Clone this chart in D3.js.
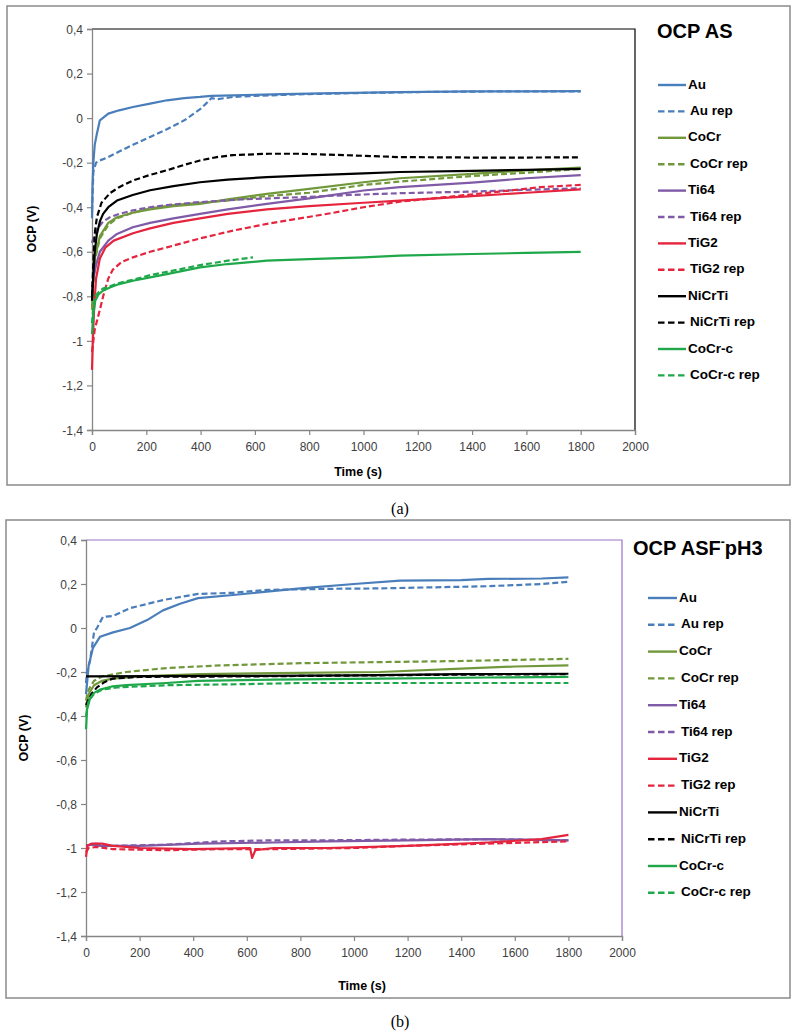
<!DOCTYPE html>
<html>
<head>
<meta charset="utf-8">
<script src="https://cdn.jsdelivr.net/npm/d3@7"></script>
<style>
html,body{margin:0;padding:0;background:#fff;}
svg{display:block;}
</style>
</head>
<body>
<svg id="c" width="795" height="1034"></svg>
<script>
// ---------- DATA ----------
const seriesNames = ["Au","Au rep","CoCr","CoCr rep","Ti64","Ti64 rep","TiG2","TiG2 rep","NiCrTi","NiCrTi rep","CoCr-c","CoCr-c rep"];
const xTicks = [0,200,400,600,800,1000,1200,1400,1600,1800,2000];
const yTicks = [0.4,0.2,0,-0.2,-0.4,-0.6,-0.8,-1,-1.2,-1.4];

// Panel (a): OCP AS  — [time s, OCP V]
const AS_Au = [[0,-0.45],[2,-0.3],[5,-0.2],[10,-0.12],[18,-0.07],[29,-0.01],[60,0.02],[100,0.035],[151,0.05],[214,0.065],[276,0.08],[340,0.09],[398,0.095],[440,0.1],[519,0.102],[700,0.108],[900,0.112],[1134,0.117],[1400,0.12],[1600,0.12],[1800,0.121]];
const AS_AuRep = [[0,-0.42],[5,-0.24],[15,-0.2],[29,-0.19],[60,-0.175],[100,-0.15],[151,-0.12],[214,-0.085],[276,-0.05],[340,-0.01],[398,0.04],[420,0.065],[440,0.09],[460,0.085],[520,0.095],[600,0.1],[800,0.108],[1000,0.113],[1200,0.117],[1500,0.12],[1800,0.12]];
const AS_CoCr = [[0,-0.85],[5,-0.72],[12,-0.62],[29,-0.53],[60,-0.47],[92,-0.445],[150,-0.425],[214,-0.41],[300,-0.395],[398,-0.385],[500,-0.365],[644,-0.34],[800,-0.318],[1000,-0.288],[1134,-0.27],[1400,-0.25],[1600,-0.235],[1800,-0.222]];
const AS_CoCrRep = [[0,-0.86],[5,-0.74],[12,-0.63],[29,-0.54],[60,-0.48],[92,-0.45],[150,-0.425],[214,-0.405],[300,-0.39],[398,-0.38],[500,-0.37],[644,-0.35],[800,-0.335],[1000,-0.3],[1134,-0.285],[1400,-0.26],[1600,-0.245],[1800,-0.228]];
const AS_Ti64 = [[0,-0.78],[5,-0.72],[15,-0.66],[29,-0.6],[60,-0.55],[92,-0.52],[150,-0.49],[214,-0.47],[300,-0.45],[398,-0.43],[500,-0.41],[644,-0.385],[800,-0.36],[1000,-0.325],[1134,-0.31],[1400,-0.29],[1600,-0.27],[1800,-0.256]];
const AS_Ti64Rep = [[0,-0.56],[5,-0.54],[18,-0.5],[40,-0.465],[66,-0.445],[100,-0.43],[151,-0.414],[214,-0.4],[276,-0.39],[398,-0.377],[550,-0.365],[766,-0.355],[950,-0.345],[1134,-0.337],[1400,-0.33],[1600,-0.322],[1800,-0.315]];
const AS_TiG2 = [[0,-1.13],[3,-1.0],[8,-0.85],[15,-0.72],[29,-0.63],[50,-0.58],[80,-0.55],[151,-0.517],[214,-0.495],[300,-0.47],[398,-0.45],[500,-0.43],[644,-0.41],[800,-0.395],[1000,-0.38],[1134,-0.37],[1400,-0.35],[1600,-0.335],[1800,-0.32]];
const AS_TiG2Rep = [[0,-1.05],[10,-0.95],[29,-0.86],[41,-0.8],[60,-0.72],[77,-0.68],[110,-0.645],[151,-0.625],[214,-0.6],[276,-0.58],[398,-0.54],[519,-0.505],[644,-0.475],[766,-0.45],[889,-0.425],[1000,-0.4],[1134,-0.375],[1300,-0.355],[1500,-0.33],[1650,-0.31],[1800,-0.3]];
const AS_NiCrTi = [[0,-0.82],[5,-0.7],[10,-0.6],[18,-0.52],[30,-0.46],[41,-0.43],[60,-0.4],[92,-0.37],[150,-0.345],[214,-0.324],[300,-0.305],[398,-0.288],[500,-0.276],[644,-0.265],[800,-0.257],[1000,-0.248],[1134,-0.242],[1400,-0.237],[1600,-0.232],[1800,-0.228]];
const AS_NiCrTiRep = [[0,-0.8],[5,-0.65],[10,-0.52],[18,-0.445],[35,-0.38],[66,-0.337],[100,-0.31],[151,-0.28],[214,-0.255],[276,-0.234],[340,-0.21],[398,-0.19],[460,-0.175],[519,-0.166],[650,-0.16],[766,-0.16],[900,-0.165],[1134,-0.175],[1400,-0.177],[1600,-0.177],[1800,-0.176]];
const AS_CoCrc = [[0,-0.97],[5,-0.88],[12,-0.82],[25,-0.79],[40,-0.775],[66,-0.76],[100,-0.745],[151,-0.73],[214,-0.715],[276,-0.7],[398,-0.67],[500,-0.655],[644,-0.64],[800,-0.633],[1000,-0.625],[1134,-0.617],[1400,-0.61],[1600,-0.605],[1800,-0.6]];
const AS_CoCrcRep = [[0,-0.92],[5,-0.85],[12,-0.8],[25,-0.78],[40,-0.765],[66,-0.755],[100,-0.74],[151,-0.725],[214,-0.705],[276,-0.69],[398,-0.66],[500,-0.64],[593,-0.625]];

// Panel (b): OCP ASF-pH3
const PH_Au = [[0,-0.3],[4,-0.25],[10,-0.17],[26,-0.09],[52,-0.04],[101,-0.02],[164,0.0],[228,0.036],[287,0.08],[351,0.11],[418,0.136],[549,0.15],[675,0.165],[799,0.18],[1000,0.2],[1172,0.215],[1400,0.218],[1500,0.223],[1700,0.225],[1800,0.23]];
const PH_AuRep = [[0,-0.25],[4,-0.2],[15,-0.15],[30,-0.02],[41,0.0],[63,0.05],[101,0.055],[164,0.09],[287,0.127],[418,0.155],[549,0.16],[675,0.173],[900,0.178],[1097,0.18],[1300,0.185],[1500,0.19],[1700,0.2],[1800,0.21]];
const PH_CoCr = [[0,-0.36],[10,-0.3],[30,-0.26],[60,-0.24],[100,-0.23],[200,-0.22],[425,-0.21],[700,-0.205],[1097,-0.2],[1400,-0.185],[1600,-0.175],[1800,-0.17]];
const PH_CoCrRep = [[0,-0.33],[10,-0.28],[30,-0.24],[60,-0.22],[150,-0.2],[302,-0.182],[500,-0.17],[799,-0.16],[1097,-0.155],[1400,-0.15],[1800,-0.14]];
const PH_Ti64 = [[0,-0.99],[20,-0.985],[52,-0.99],[200,-0.99],[425,-0.98],[700,-0.975],[900,-0.97],[1200,-0.965],[1500,-0.96],[1800,-0.965]];
const PH_Ti64Rep = [[0,-0.99],[30,-0.98],[100,-0.99],[300,-0.985],[500,-0.97],[700,-0.965],[900,-0.965],[1200,-0.962],[1500,-0.96],[1800,-0.965]];
const PH_TiG2 = [[0,-1.04],[5,-0.99],[20,-0.98],[60,-0.98],[100,-0.99],[200,-1.0],[400,-1.005],[612,-1.0],[620,-1.045],[632,-1.01],[700,-1.0],[900,-1.0],[1200,-0.99],[1500,-0.975],[1700,-0.96],[1800,-0.94]];
const PH_TiG2Rep = [[0,-1.02],[10,-1.0],[40,-0.995],[100,-1.005],[300,-1.01],[500,-1.005],[700,-1.005],[1000,-1.0],[1200,-0.99],[1500,-0.98],[1800,-0.97]];
const PH_NiCrTi = [[0,-0.22],[500,-0.218],[1000,-0.215],[1400,-0.21],[1800,-0.208]];
const PH_NiCrTiRep = [[0,-0.35],[4,-0.34],[20,-0.3],[41,-0.27],[70,-0.245],[101,-0.23],[200,-0.222],[600,-0.22],[1000,-0.216],[1400,-0.212],[1800,-0.21]];
const PH_CoCrc = [[0,-0.46],[4,-0.37],[15,-0.32],[30,-0.295],[52,-0.28],[100,-0.265],[150,-0.26],[300,-0.25],[418,-0.24],[700,-0.235],[1100,-0.23],[1500,-0.225],[1800,-0.222]];
const PH_CoCrcRep = [[0,-0.4],[10,-0.33],[30,-0.3],[60,-0.28],[116,-0.27],[300,-0.26],[600,-0.255],[800,-0.25],[1200,-0.25],[1800,-0.25]];

const asSeries = [AS_Au,AS_AuRep,AS_CoCr,AS_CoCrRep,AS_Ti64,AS_Ti64Rep,AS_TiG2,AS_TiG2Rep,AS_NiCrTi,AS_NiCrTiRep,AS_CoCrc,AS_CoCrcRep];
const phSeries = [PH_Au,PH_AuRep,PH_CoCr,PH_CoCrRep,PH_Ti64,PH_Ti64Rep,PH_TiG2,PH_TiG2Rep,PH_NiCrTi,PH_NiCrTiRep,PH_CoCrc,PH_CoCrcRep];

// ---------- STYLE ----------
const seriesColors = ["#4a7ebb","#4a7ebb","#71993c","#71993c","#7f5aa6","#7f5aa6","#e5243d","#e5243d","#000000","#000000","#1ea84a","#1ea84a"];
const dashed = i => i % 2 === 1;

const svg = d3.select("#c");
svg.append("rect").attr("width",795).attr("height",1034).attr("fill","#fff");

const FONT = "'Liberation Sans', Arial, sans-serif";

function panel(cfg) {
  const g = svg.append("g");
  g.append("rect").attr("x",cfg.frame[0]).attr("y",cfg.frame[1])
    .attr("width",cfg.frame[2]).attr("height",cfg.frame[3])
    .attr("fill","none").attr("stroke","#8a8a8a").attr("stroke-width",1.5);

  const [px,py,pw,ph] = cfg.plot;
  const x = d3.scaleLinear().domain([0,2000]).range([px,px+pw]);
  const y = d3.scaleLinear().domain([-1.4,0.4]).range([py+ph,py]);

  g.append("path").attr("d",`M${px},${py}H${px+pw}V${py+ph}`)
    .attr("fill","none").attr("stroke",cfg.borderColor).attr("stroke-width",1.2);

  const xAxis = d3.axisBottom(x).tickValues(xTicks).tickSize(5).tickFormat(d3.format("d"));
  const yAxis = d3.axisLeft(y).tickValues(yTicks).tickSize(5)
    .tickFormat(d => String(+d.toFixed(1)).replace(".",","));
  const gx = g.append("g").attr("transform",`translate(0,${py+ph})`).call(xAxis);
  const gy = g.append("g").attr("transform",`translate(${px},0)`).call(yAxis);
  [gx,gy].forEach(a => {
    a.select(".domain").attr("stroke","#868686").attr("stroke-width",1.3);
    a.selectAll(".tick line").attr("stroke","#868686").attr("stroke-width",1.2);
    a.selectAll(".tick text").attr("fill","#404040").style("font-family",FONT).style("font-size","12px");
  });
  gx.selectAll(".tick text").attr("dy",0).attr("y",cfg.xLabelY - (py+ph)).attr("dominant-baseline","middle");
  gy.selectAll(".tick text").attr("x",-9).attr("dy","0.35em");

  g.append("text").attr("x",cfg.timeX).attr("y",cfg.timeY).attr("text-anchor","middle")
    .attr("dominant-baseline","middle").style("font-family",FONT).style("font-weight","bold")
    .style("font-size","12.5px").text("Time (s)");
  g.append("text").attr("transform",`translate(${cfg.ocpX},${cfg.ocpY}) rotate(-90)`)
    .attr("text-anchor","middle").attr("dominant-baseline","middle")
    .style("font-family",FONT).style("font-weight","bold").style("font-size","12.5px").text("OCP (V)");

  const line = d3.line().x(d => x(d[0])).y(d => y(d[1])).curve(d3.curveLinear);
  cfg.series.forEach((s,i) => {
    g.append("path").datum(s).attr("d",line).attr("fill","none")
      .attr("stroke",seriesColors[i]).attr("stroke-width",2.2)
      .attr("stroke-linejoin","round")
      .attr("stroke-dasharray",dashed(i) ? "6,3" : null);
  });

  const t = g.append("text").attr("x",cfg.titleX).attr("y",cfg.titleY).attr("dominant-baseline","middle")
    .style("font-family",FONT).style("font-weight","bold").style("font-size","20px");
  cfg.title(t);

  seriesNames.forEach((n,i) => {
    const yy = cfg.legY + i*cfg.legStep;
    g.append("line").attr("x1",cfg.legX1).attr("x2",cfg.legX2).attr("y1",yy).attr("y2",yy)
      .attr("stroke",seriesColors[i]).attr("stroke-width",2.4)
      .attr("stroke-dasharray",dashed(i) ? "6.5,3.5" : null);
    g.append("text").attr("x",cfg.legX2 + (dashed(i)?4:2)).attr("y",yy).attr("dominant-baseline","middle")
      .style("font-family",FONT).style("font-weight","bold").style("font-size","13.5px").text(n);
  });
}

panel({
  frame:[7,6,783,479], plot:[92,29,543,401], borderColor:"#000",
  xLabelY:448, timeX:358, timeY:473, ocpX:33, ocpY:229,
  series: asSeries,
  titleX:657, titleY:33, title: t => t.text("OCP AS"),
  legX1:658, legX2:686, legY:85, legStep:26.4
});

panel({
  frame:[6,520,784,478], plot:[86,540,536,396], borderColor:"#9b72c8",
  xLabelY:954, timeX:362, timeY:987, ocpX:25, ocpY:738,
  series: phSeries,
  titleX:633, titleY:550, title: t => {
    t.append("tspan").text("OCP ASF");
    t.append("tspan").attr("dy",-7).style("font-size","12px").text("-");
    t.append("tspan").attr("dy",7).text("pH3");
  },
  legX1:648, legX2:677, legY:598, legStep:26.8
});

svg.append("text").attr("x",400).attr("y",510).attr("text-anchor","middle").attr("dominant-baseline","middle")
  .style("font-family","'Liberation Serif', 'DejaVu Serif', serif").style("font-size","16px").text("(a)");
svg.append("text").attr("x",400).attr("y",1023).attr("text-anchor","middle").attr("dominant-baseline","middle")
  .style("font-family","'Liberation Serif', 'DejaVu Serif', serif").style("font-size","16px").text("(b)");
</script>
</body>
</html>
